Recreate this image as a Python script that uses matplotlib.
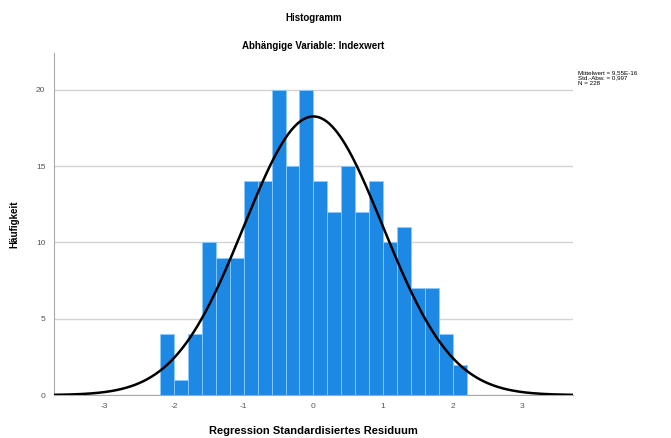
import numpy as np
import matplotlib.pyplot as plt

plt.rcParams['font.family'] = ['Liberation Sans', 'DejaVu Sans']

# Histogram bins (standardized residuals), width 0.2 from -2.2 to 2.2
bin_edges = [-2.2, -2.0, -1.8, -1.6, -1.4, -1.2, -1.0, -0.8, -0.6, -0.4, -0.2, 0.0,
             0.2, 0.4, 0.6, 0.8, 1.0, 1.2, 1.4, 1.6, 1.8, 2.0, 2.2]
counts = [4, 1, 4, 10, 9, 9, 14, 14, 20, 15, 20, 14, 12, 15, 12, 14, 10, 11, 7, 7, 4, 2]

mean_val = 0.0
std_val = 0.997
n_val = 228
x_ticks = [-3, -2, -1, 0, 1, 2, 3]
y_ticks = [0, 5, 10, 15, 20]

fig = plt.figure(figsize=(6.71, 4.38), dpi=100)
ax = fig.add_axes([0.080, 0.098, 0.774, 0.781])

ax.yaxis.grid(True, color='#d4d4d4', linewidth=1.0)
ax.set_axisbelow(True)

widths = np.diff(bin_edges)
ax.bar(bin_edges[:-1], counts, width=widths, align='edge',
       color='#1e88e5', edgecolor='#8ccbff', linewidth=0.6, zorder=2)

# Normal curve scaled to counts
xs = np.linspace(-3.73, 3.73, 400)
bw = widths[0]
ys = n_val * bw / (std_val * np.sqrt(2 * np.pi)) * np.exp(-0.5 * ((xs - mean_val) / std_val) ** 2)
ax.plot(xs, ys, color='black', linewidth=1.8, zorder=3)

ax.set_xlim(-3.73, 3.73)
ax.set_ylim(0, 22.4)
ax.set_xticks(x_ticks)
ax.set_xticklabels([str(t) for t in x_ticks])
ax.set_yticks(y_ticks)
ax.tick_params(axis='both', labelsize=6, labelcolor='#555555', length=0, pad=6)

for s in ['top', 'right']:
    ax.spines[s].set_visible(False)
ax.spines['left'].set_color('#aaaaaa')
ax.spines['bottom'].set_color('#aaaaaa')

ax.set_xlabel('Regression Standardisiertes Residuum', fontsize=8, fontweight='bold', labelpad=11)
ax.set_ylabel('Häufigkeit', fontsize=7, fontweight='bold', labelpad=12)

fig.text(0.467, 0.96, 'Histogramm', ha='center', va='center', fontsize=7, fontweight='bold')
fig.text(0.467, 0.895, 'Abhängige Variable: Indexwert', ha='center', va='center',
         fontsize=7, fontweight='bold')

fig.text(0.862, 0.822, 'Mittelwert = 9,55E-16\nStd.-Abw. = 0,997\nN = %d' % n_val,
         ha='left', va='center', fontsize=4.5, linespacing=1.1)

fig.savefig('out.png', dpi=100)
